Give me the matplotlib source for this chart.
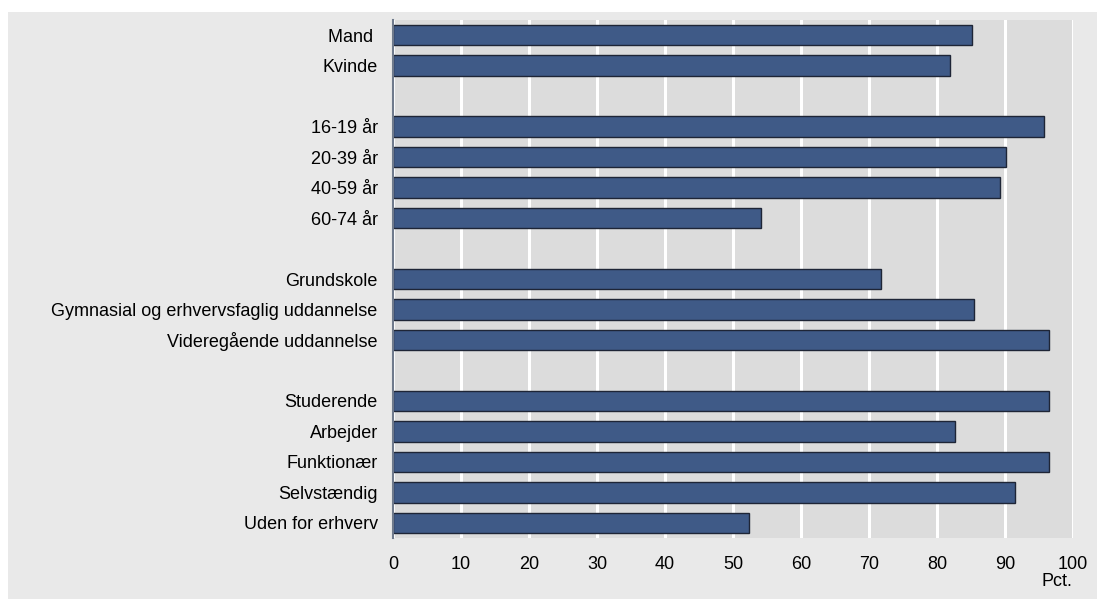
import matplotlib
matplotlib.use("Agg")
from matplotlib import pyplot as plt
from matplotlib.patches import Rectangle

plt.rcParams['font.family'] = ['Liberation Sans', 'DejaVu Sans']

# categories top to bottom, None = empty gap row
labels = ["Mand ", "Kvinde", None,
          "16-19 år", "20-39 år", "40-59 år", "60-74 år", None,
          "Grundskole", "Gymnasial og erhvervsfaglig uddannelse", "Videregående uddannelse", None,
          "Studerende", "Arbejder", "Funktionær", "Selvstændig", "Uden for erhverv"]
values = [85.2, 81.9, None,
          95.7, 90.2, 89.3, 54.1, None,
          71.7, 85.4, 96.5, None,
          96.5, 82.6, 96.4, 91.4, 52.3]
xticks = list(range(0, 101, 10))

bar_color = "#3f5a87"
edge_color = "#1e2536"
fs = 13

fig = plt.figure(figsize=(10.97, 5.99), dpi=100)
fig.patch.set_facecolor("white")
# light gray panel behind everything (white strip on top and left)
fig.patches.append(Rectangle((8/1097, 0), 1 - 8/1097, (599-12)/599,
                             transform=fig.transFigure, facecolor="#e9e9e9",
                             edgecolor="none", zorder=-5))

ax = fig.add_axes([393/1097, 61/599, 680/1097, 518/599])
ax.set_facecolor("#dcdcdc")

pos = [i for i, v in enumerate(values) if v is not None]
vals = [v for v in values if v is not None]
labs = [l for l in labels if l is not None]

ax.barh(pos, vals, height=0.67, color=bar_color, edgecolor=edge_color,
        linewidth=1.0, zorder=3)

ax.set_xlim(0, 100)
ax.set_ylim(16.5, -0.5)
ax.set_yticks(pos)
ax.set_yticklabels(labs, fontsize=fs)
ax.set_xticks(xticks)
ax.set_xticklabels([str(t) for t in xticks], fontsize=fs)
ax.tick_params(axis="both", length=0)
ax.tick_params(axis="y", pad=11)
ax.tick_params(axis="x", pad=13)

ax.grid(axis="x", color="white", linewidth=2.2, zorder=1)
ax.set_axisbelow(True)
for s in ["top", "right", "bottom"]:
    ax.spines[s].set_visible(False)
ax.spines["left"].set_color("#6f7a8c")
ax.spines["left"].set_linewidth(1.5)
ax.spines["left"].set_zorder(4)

fig.text(1072/1097, 1 - 581/599, "Pct.", fontsize=fs, ha="right", va="center")

plt.savefig("out.png", dpi=100, facecolor=fig.get_facecolor())
